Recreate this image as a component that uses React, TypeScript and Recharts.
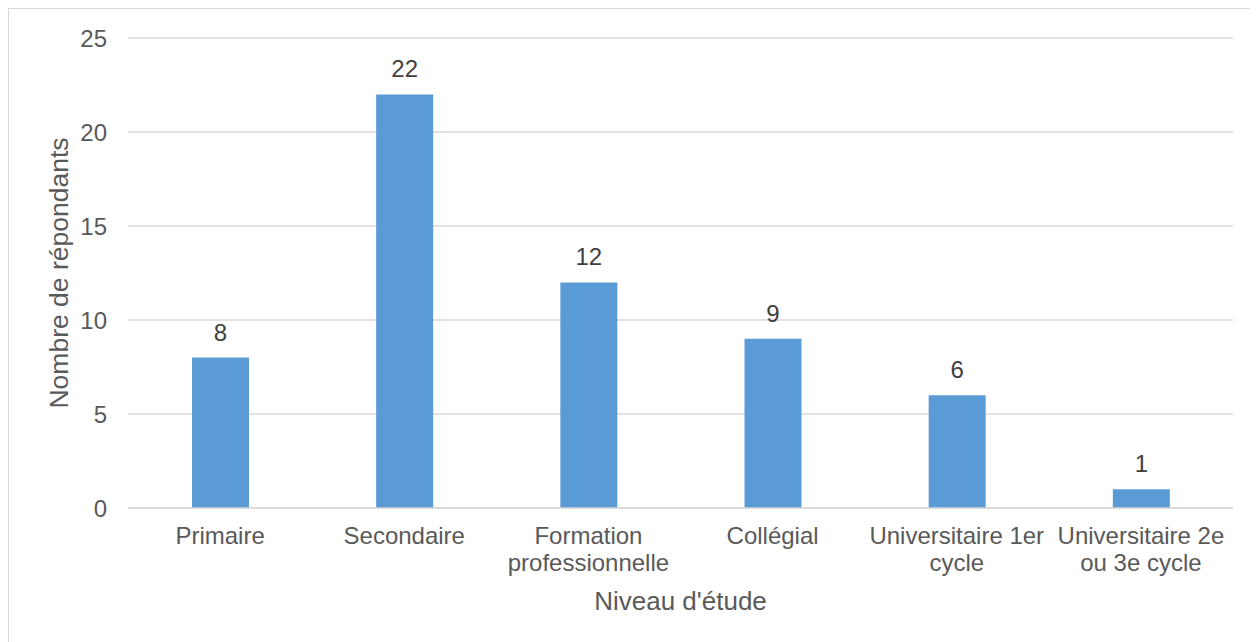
import { Bar, BarChart, CartesianGrid, LabelList, XAxis, YAxis } from "recharts";

// Répartition des répondants selon le niveau d'étude (style Excel).
// Les libellés longs passent sur deux lignes, comme dans l'original.

const niveaux = [
  "Primaire",
  "Secondaire",
  "Formation\nprofessionnelle",
  "Collégial",
  "Universitaire 1er\ncycle",
  "Universitaire 2e\nou 3e cycle",
];
const repondants = [8, 22, 12, 9, 6, 1];
const yTicks = [0, 5, 10, 15, 20, 25];

const data = niveaux.map((niveau, i) => ({ niveau, n: repondants[i] }));

const FONT = '"Liberation Sans", Arial, sans-serif';
const TEXT = "#595959";
const GRID = "#d9d9d9";

function CategoryTick({ x, y, payload }: { x?: number; y?: number; payload?: { value: string } }) {
  const lines = String(payload?.value ?? "").split("\n");
  return (
    <text
      x={x}
      y={y}
      textAnchor="middle"
      fill={TEXT}
      style={{ fontSize: 24, fontFamily: FONT }}
    >
      {lines.map((line, i) => (
        <tspan key={i} x={x} dy={i === 0 ? 17 : 27}>
          {line}
        </tspan>
      ))}
    </text>
  );
}

function YTitle({ viewBox }: { viewBox?: { x: number; y: number; width: number; height: number } }) {
  if (!viewBox) return null;
  const cx = viewBox.x + 59;
  const cy = viewBox.y + viewBox.height / 2;
  return (
    <text
      x={cx}
      y={cy}
      transform={`rotate(-90, ${cx}, ${cy})`}
      textAnchor="middle"
      fill={TEXT}
      style={{ fontSize: 26.5, fontFamily: FONT }}
    >
      Nombre de répondants
    </text>
  );
}

export default function App() {
  return (
    <div style={{ width: 1250, height: 634, overflow: "hidden" }}>
      <div style={{ width: 1260, height: 640, border: `1px solid ${GRID}`, background: "#fff" }}>
        <BarChart
          width={1250}
          height={634}
          data={data}
          margin={{ top: 29, right: 26, bottom: 0, left: 0 }}
          style={{ fontFamily: FONT }}
        >
          <CartesianGrid stroke={GRID} strokeWidth={1.5} vertical={false} />
          <XAxis
            dataKey="niveau"
            height={135}
            axisLine={{ stroke: GRID, strokeWidth: 1.5 }}
            tickLine={false}
            tickMargin={13}
            interval={0}
            tick={<CategoryTick />}
            label={{
              value: "Niveau d'étude",
              position: "insideBottom",
              offset: 33,
              fill: TEXT,
              fontSize: 26,
              fontFamily: FONT,
            }}
          />
          <YAxis
            width={119}
            domain={[0, 25]}
            ticks={yTicks}
            axisLine={false}
            tickLine={false}
            tickMargin={15}
            tick={{ fill: TEXT, fontSize: 24, fontFamily: FONT }}
            label={<YTitle />}
          />
          <Bar dataKey="n" fill="#5b9bd5" barSize={57} isAnimationActive={false}>
            <LabelList
              dataKey="n"
              position="top"
              offset={17}
              fill="#404040"
              style={{ fontSize: 24, fontFamily: FONT }}
            />
          </Bar>
        </BarChart>
      </div>
    </div>
  );
}
